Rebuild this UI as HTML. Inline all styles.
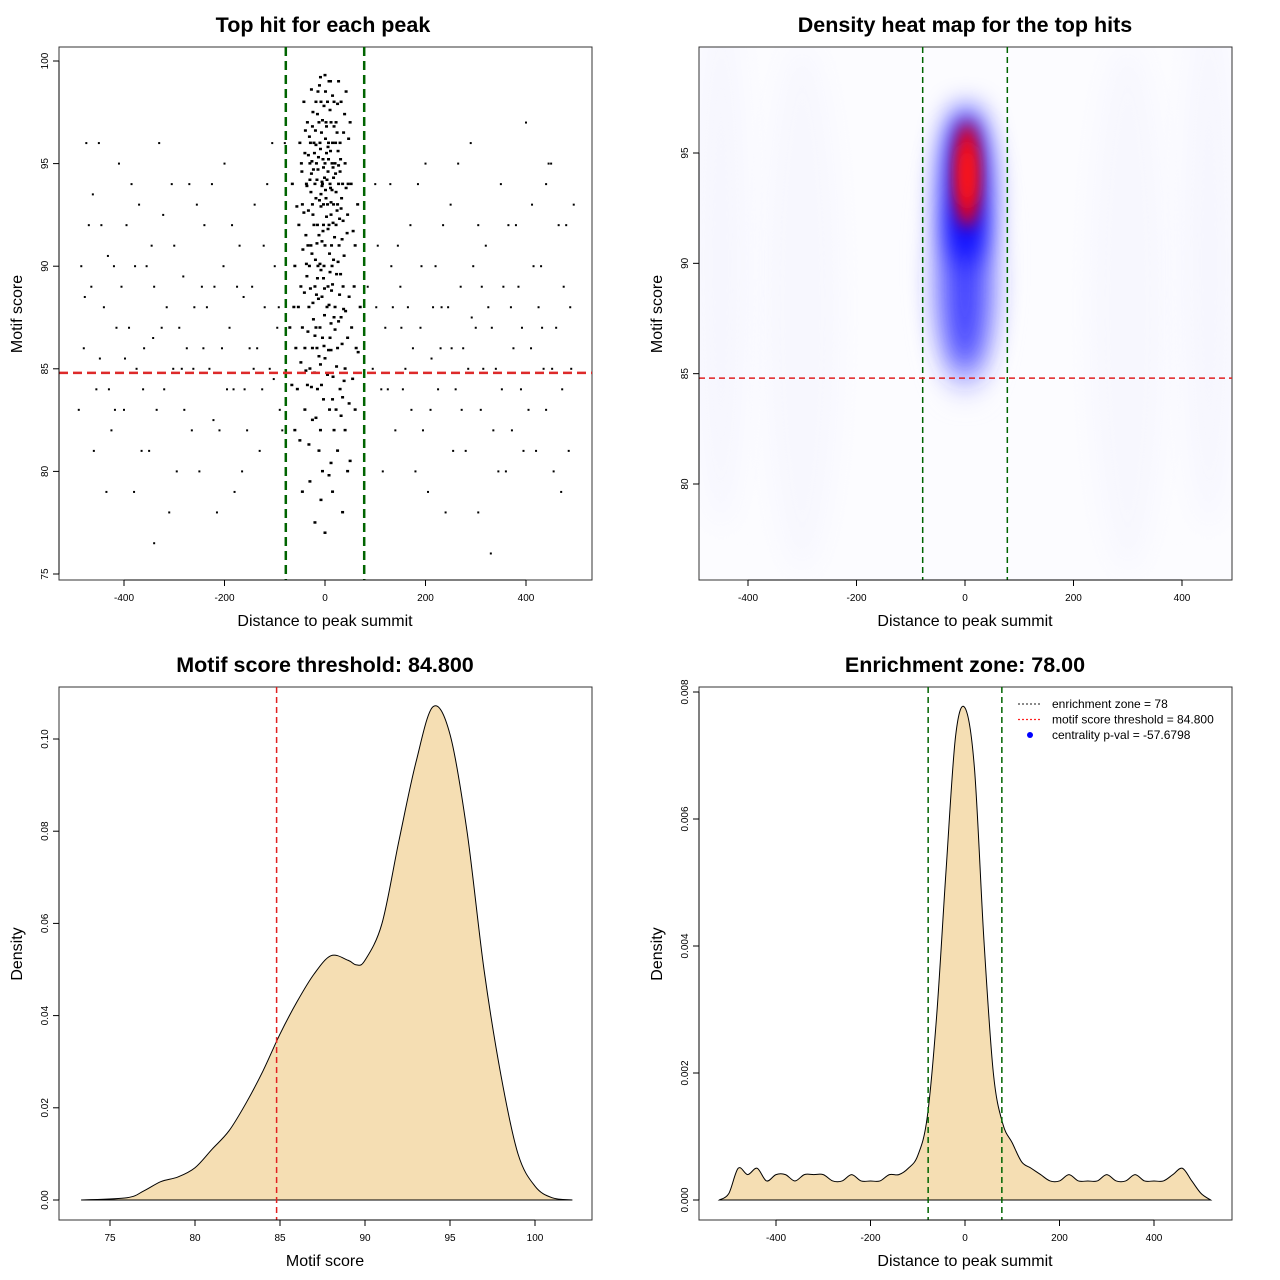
<!DOCTYPE html>
<html><head><meta charset="utf-8"><style>
html,body{margin:0;padding:0;background:#fff}
svg{display:block;font-family:"Liberation Sans",sans-serif}
</style></head><body>
<svg id="s" width="1280" height="1280" xmlns="http://www.w3.org/2000/svg">
<defs>
<filter id="blur1" x="-100%" y="-100%" width="300%" height="300%"><feGaussianBlur stdDeviation="14"/></filter>
<filter id="blur2" x="-100%" y="-100%" width="300%" height="300%"><feGaussianBlur stdDeviation="8"/></filter>
<clipPath id="clip2"><rect x="699" y="47" width="533" height="533"/></clipPath>
</defs>
</svg>
<script>
// ---------- data ----------
const clusterPts = "-30,95 -20,94 -10,96 0,95 10,94 20,95 30,96 -25,93 -15,92 -5,94 5,93 15,96 25,93 35,94 -35,97 -22,96 -12,97 2,97 12,97 22,97 32,98 -8,98 8,99 -18,98 18,98 0,99.3 -40,95.5 40,95 -45,93 45,92.5 -28,91 -14,90 0,91 14,90 28,91 -38,91.5 38,90.5 -20,89 -6,88.5 6,89 20,88 -32,88 32,87.5 -48,89 48,88.5 -10,87 10,86.5 -25,86 25,86 0,85.5 -40,86 40,85 -55,84 55,84.5 -15,84 15,83.5 -60,90 60,91 -65,94 65,93 -50,96 50,97 -42,98 42,98.5 -3,92 3,95.5 -8,93.5 8,92 -17,95 17,93 -27,94.5 27,94 -33,92.7 33,93.3 -2,90 4,88 -12,91.5 12,92.5 -22,92 22,92 -36,89.5 36,89 -18,87 18,87.5 -5,86.5 5,84.7 -30,85 30,84 -45,87 45,86.5 -70,87 70,88 -7,96.5 7,96 -14,98.5 14,95 -24,97.5 24,96.5 1,93.7 -1,94.3 11,93.8 -11,93.2 21,94.5 -21,95.5 29,92.3 -29,96 37,96.5 -37,94 -52,92 52,94 -58,86 58,89 -9,82 9,83 -25,82.5 25,81 -40,83 40,82 -60,82 60,83 -5,80 15,79 -30,79.5 35,78 0,77 -20,77.5 -4,95.2 6,94.6 -16,94.2 16,94.8 -26,95.1 26,95.6 -6,91.2 9,90.6 -19,90.3 19,91.4 -31,90 31,89.6 -3,89.4 -9,85.2 12,85.9 -21,84.8 22,83 -34,86.8 34,86.2 -44,90.8 44,91.6 3,96.8 -2,97.8 -27,98.6 27,99 -9,99.2 10,97.6 -3,93 3,92.4 13,91 -13,88.4 13,88.8 -1,87.6 23,89.6 -24,88.2 -47,95 47,96.2 -53,88 53,87 -16,86 16,84.6 -35,84.2 35,83.6 -50,81.5 50,80.5 -12,81 12,80.4";
const clusterPts2 = "-33,95.4 -23,94.7 -13,95.3 -3,94.8 7,95.2 17,94.3 27,94.9 -28,93.6 -18,93.3 -8,92.9 2,93.3 12,93.1 22,93.6 32,92.8 -31,96.3 -19,96.6 -9,95.7 1,96.2 11,95.6 21,96 31,95.2 -36,93.9 36,92.2 -6,94.1 4,94.2 14,93.7 -14,94.7 -24,92.5 24,92.7 -4,91.7 6,91.8 16,92.1 -16,91.1 -26,90.6 26,90.2 -10,90.1 10,89.7 -1,88.9 -15,89.4 15,89.1 -29,88.9 29,88.6 -8,89.8 8,88.1 -20,86.6 20,86.9 -2,86.1 -12,85.6 12,87.2 -42,92.6 42,93.8 -46,94.6 46,94 -39,96.6 39,97.4 -5,97.1 5,98 -15,97.4 15,98.3 -25,96.8 25,97.9 -11,98.8 1,98.5 11,99 -34,91 34,91.3 -41,88.7 41,87.8 -23,87.4 23,85.1 -7,84.2 7,85.9 -38,84.9 38,84.4 -56,92.9 56,91.7 -62,88 62,86 -66,84.2 66,85.8 -48,85.3 48,83.3 -3,83.5 -18,82.6 18,82 -32,81.3 32,82.7 -45,79 45,80 -8,78.6 8,79.8 -27,84.1 27,87.3 -37,90.1 37,87.9 -17,88.6 17,90.3 -6,93.9 6,95.8 -18,95.9 18,96.8 -30,94.2 30,94.6";
const outerPts = "-480,86 -470,92 -460,81 -450,96 -440,88 -430,84 -420,90 -410,95 -400,83 -390,87 -380,79 -370,93 -360,86 -350,81 -340,89 -330,96 -320,84 -310,78 -300,91 -290,87 -280,83 -270,94 -260,88 -250,80 -240,92 -230,85 -220,89 -210,82 -200,95 -190,87 -180,79 -170,91 -160,84 -150,86 -140,93 -130,81 -120,88 -110,85 -100,90 -90,83 -80,96 120,87 130,94 140,82 150,89 160,85 170,92 180,80 190,87 200,95 210,83 220,90 230,86 240,78 250,93 260,84 270,89 280,81 290,96 300,87 310,83 320,91 330,76 340,85 350,94 360,80 370,88 380,92 390,84 400,97 410,86 420,81 430,90 440,83 450,95 460,87 470,79 480,92 490,85 -475,96 -455,84 -435,79 -415,87 -395,92 -375,85 -355,90 -335,83 -315,88 -295,80 -275,86 -255,93 -235,88 -215,78 -195,84 -175,89 -155,82 -135,86 -115,94 -95,87 -85,82 95,85 105,91 115,80 135,88 155,84 175,86 195,82 215,88 235,92 255,81 275,86 295,90 315,85 335,82 355,89 375,86 395,81 415,90 435,85 455,80 475,89 495,93 -490,83 -465,89 305,78 -340,76.5 440,94 445,95 -485,90 -445,92 -425,82 -405,89 -385,94 -365,81 -345,91 -325,87 -305,94 -285,85 -265,82 -245,89 -225,94 -205,86 -185,92 -165,80 -145,89 -125,84 -105,96 85,89 100,94 125,84 145,91 165,88 185,94 205,79 225,84 245,88 265,95 285,85 305,92 325,88 345,80 365,92 385,89 405,83 425,88 465,92 485,81 -478,88.5 -462,93.5 -448,85.5 -432,90.5 -418,83 -398,85.5 -378,90 -362,84 -342,86.5 -322,92.5 -302,85 -282,89.5 -262,85 -242,86 -222,82.5 -202,90 -182,84 -162,88.5 -142,85 -122,91 -102,84.5 -92,88 102,88 112,84 132,90 152,87 172,83 192,90 212,85.5 232,88 252,86 272,83 292,87.5 312,89 332,87 352,84 372,82 392,87 412,93 432,87 452,85 472,84 488,88";
const scoreXs = [73.3,76,77,78,79,80,81,82,83,84,85,86,87,88,89,89.5,90,91,92,93,94,95,96,97,98,99,100,101,102.2];
const scoreDens = [0,0.0005,0.002,0.004,0.005,0.007,0.011,0.015,0.021,0.028,0.036,0.043,0.049,0.053,0.052,0.051,0.052,0.060,0.078,0.095,0.107,0.101,0.080,0.050,0.027,0.010,0.003,0.0005,0];
const distXs = [-520,-500,-480,-460,-440,-420,-400,-380,-360,-340,-320,-300,-280,-260,-240,-220,-200,-180,-160,-140,-120,-100,-80,-60,-40,-20,0,20,40,60,80,100,120,140,160,180,200,220,240,260,280,300,320,340,360,380,400,420,440,460,480,500,520];
const distDens = [0,0.0001,0.0005,0.0004,0.0005,0.0003,0.0004,0.0004,0.0003,0.0004,0.0004,0.0004,0.0003,0.0003,0.0004,0.0003,0.0003,0.0003,0.0004,0.0004,0.0005,0.0007,0.0013,0.0029,0.0052,0.0073,0.00775,0.0068,0.0041,0.002,0.0012,0.0009,0.0006,0.0005,0.0004,0.0003,0.0003,0.0004,0.0003,0.0003,0.0003,0.0004,0.0003,0.0003,0.0004,0.0003,0.0003,0.0003,0.0004,0.0005,0.0003,0.0001,0];
const heatX = [-300,300,-450,450,0,0,2,4,4];
const heatY = [88,88,90,90,90,89,93.5,94,94];
const heatSx = [70,70,50,50,60,42,42,22,12];
const heatSy = [12,12,12,12,6,4,3.6,2.4,1.4];
const heatColor = ["#f7f7fe","#f7f7fe","#f6f6fe","#f6f6fe","#d0d0ff","#4040ff","#0000ff","#ff0000","#ff2020"];
const xTicksDist = [-400,-200,0,200,400];
const yTicks1 = [75,80,85,90,95,100];
const yTicks2 = [80,85,90,95];
const xTicks3 = [75,80,85,90,95,100];
const yTicks3 = [0,0.02,0.04,0.06,0.08,0.10];
const yTicks4 = [0,0.002,0.004,0.006,0.008];
const zone = 78, thresh = 84.8;

// ---------- helpers ----------
const S = document.getElementById('s');
const NS = 'http://www.w3.org/2000/svg';
function mk(tag, attrs, parent){const e=document.createElementNS(NS,tag);for(const k in attrs)e.setAttribute(k,attrs[k]);(parent||S).appendChild(e);return e;}
function txt(x,y,s,size,opts){const e=mk('text',Object.assign({x:x,y:y,'font-size':size,'text-anchor':'middle',fill:'#000'},opts||{}));e.textContent=s;return e;}
function lin(a,b,c,d){return v=>c+(v-a)*(d-c)/(b-a);}
function parse(s){return s.trim().split(/\s+/).map(p=>p.split(',').map(Number));}
function smooth(P){let d=`M${P[0][0]},${P[0][1]}`;
  for(let i=0;i<P.length-1;i++){const p0=P[i-1]||P[i],p1=P[i],p2=P[i+1],p3=P[i+2]||p2;
    d+=` C${p1[0]+(p2[0]-p0[0])/6},${p1[1]+(p2[1]-p0[1])/6} ${p2[0]-(p3[0]-p1[0])/6},${p2[1]-(p3[1]-p1[1])/6} ${p2[0]},${p2[1]}`;}
  return d+'Z';}

function frame(x0,y0,w,h,name){const r=mk('rect',{x:x0,y:y0,width:w,height:h,fill:'none',stroke:'#333','stroke-width':1});}
function xAxis(ticks,sx,y,fmt,name){const g=mk('g',{});
  mk('line',{x1:sx(ticks[0]),x2:sx(ticks[ticks.length-1]),y1:y,y2:y,stroke:'#000'},g);
  ticks.forEach(t=>{mk('line',{x1:sx(t),x2:sx(t),y1:y,y2:y+6,stroke:'#000'},g);const e=txt(sx(t),y+21,fmt(t),10,{});g.appendChild(e);});}
function yAxis(ticks,sy,x,fmt,name){const g=mk('g',{});
  mk('line',{x1:x,x2:x,y1:sy(ticks[0]),y2:sy(ticks[ticks.length-1]),stroke:'#000'},g);
  ticks.forEach(t=>{mk('line',{x1:x,x2:x-6,y1:sy(t),y2:sy(t),stroke:'#000'},g);const e=txt(x-11,sy(t),fmt(t),10,{transform:`rotate(-90 ${x-11} ${sy(t)})`});g.appendChild(e);});}
function title(x,y,s,name){const e=txt(x,y,s,21.5,{'font-weight':'bold'});}
function label(x,y,s,name,rot){const e=txt(x,y,s,16,rot?{transform:`rotate(-90 ${x} ${y})`}:{});}

// ---------- panel 1: scatter ----------
{
  const sx=lin(0,400,325,526), sy=lin(100,75,61,574);
  title(323,32,'Top hit for each peak','title-scatter');
  frame(59,47,533,533,'scatter-frame');
  const g=mk('g',{fill:'#000'});
  parse(clusterPts).concat(parse(clusterPts2)).forEach(([x,y])=>{mk('rect',{x:sx(x)-1.5,y:sy(y)-1.5,width:3,height:2.5},g);});
  parse(outerPts).forEach(([x,y])=>{mk('rect',{x:sx(x)-1,y:sy(y)-1,width:2,height:2},g);});
  const v1=mk('line',{x1:sx(-zone),x2:sx(-zone),y1:47,y2:580,stroke:'#006400','stroke-width':2.5,'stroke-dasharray':'9,5'});
  
  const v2=mk('line',{x1:sx(zone),x2:sx(zone),y1:47,y2:580,stroke:'#006400','stroke-width':2.5,'stroke-dasharray':'9,5'});
  
  const h=mk('line',{x1:59,x2:592,y1:sy(thresh),y2:sy(thresh),stroke:'#dd2a2a','stroke-width':2.5,'stroke-dasharray':'9,5'});
  
  xAxis(xTicksDist,sx,580,String,'x-axis-scatter');
  yAxis(yTicks1,sy,59,String,'y-axis-scatter');
  label(325,626,'Distance to peak summit','x-axis-title-scatter');
  label(22,314,'Motif score','y-axis-title-scatter',true);
}
// ---------- panel 2: heat map ----------
{
  const sx=lin(0,400,965,1182), sy=lin(95,80,153,484);
  title(965,32,'Density heat map for the top hits','title-heatmap');
  const g=mk('g',{'clip-path':'url(#clip2)'});
  mk('rect',{x:699,y:47,width:533,height:533,fill:'#fcfcff'},g);
  heatX.forEach((hx,i)=>{const e=mk('ellipse',{cx:sx(hx),cy:sy(heatY[i]),rx:heatSx[i]*0.5425,ry:heatSy[i]*22.07,fill:heatColor[i],filter:i>=7?'url(#blur2)':'url(#blur1)'},g);
    });
  frame(699,47,533,533,'heatmap-frame');
  [-zone,zone].forEach((z,i)=>{const l=mk('line',{x1:sx(z),x2:sx(z),y1:47,y2:580,stroke:'#006400','stroke-width':1.5,'stroke-dasharray':'6,4'});
    });
  const h=mk('line',{x1:699,x2:1232,y1:sy(thresh),y2:sy(thresh),stroke:'#e02020','stroke-width':1.5,'stroke-dasharray':'6,4'});
  
  xAxis(xTicksDist,sx,580,String,'x-axis-heatmap');
  yAxis(yTicks2,sy,699,String,'y-axis-heatmap');
  label(965,626,'Distance to peak summit','x-axis-title-heatmap');
  label(662,314,'Motif score','y-axis-title-heatmap',true);
}
// ---------- panel 3: score density ----------
{
  const sx=lin(75,100,110,535), sy=lin(0,0.1,1200,739);
  title(325,672,'Motif score threshold: 84.800','title-score-density');
  frame(59,687,533,533,'score-density-frame');
  const P=scoreXs.map((x,i)=>[sx(x),sy(scoreDens[i])]);
  const c=mk('path',{d:smooth(P),fill:'#f5deb3',stroke:'#000','stroke-width':1});
  
  const v=mk('line',{x1:sx(thresh),x2:sx(thresh),y1:687,y2:1220,stroke:'#e02020','stroke-width':1.5,'stroke-dasharray':'6,4'});
  
  xAxis(xTicks3,sx,1220,String,'x-axis-score-density');
  yAxis(yTicks3,sy,59,t=>t.toFixed(2),'y-axis-score-density');
  label(325,1266,'Motif score','x-axis-title-score-density');
  label(22,954,'Density','y-axis-title-score-density',true);
}
// ---------- panel 4: distance density ----------
{
  const sx=lin(0,400,965,1154), sy=lin(0,0.008,1200,692);
  title(965,672,'Enrichment zone: 78.00','title-enrichment');
  frame(699,687,533,533,'enrichment-frame');
  const P=distXs.map((x,i)=>[sx(x),sy(distDens[i])]);
  const c=mk('path',{d:smooth(P),fill:'#f5deb3',stroke:'#000','stroke-width':1});
  
  [-zone,zone].forEach((z,i)=>{const l=mk('line',{x1:sx(z),x2:sx(z),y1:687,y2:1220,stroke:'#006400','stroke-width':1.5,'stroke-dasharray':'6,4'});
    });
  xAxis(xTicksDist,sx,1220,String,'x-axis-enrichment');
  yAxis(yTicks4,sy,699,t=>t.toFixed(3),'y-axis-enrichment');
  label(965,1266,'Distance to peak summit','x-axis-title-enrichment');
  label(662,954,'Density','y-axis-title-enrichment',true);
  const lg=mk('g',{});
  const items=[['enrichment zone = 78','#444','line'],['motif score threshold = 84.800','#ff2020','line'],['centrality p-val = -57.6798','#0000ff','dot']];
  items.forEach((it,i)=>{const y=704+i*15.5;
    if(it[2]=='line')mk('line',{x1:1018,x2:1042,y1:y,y2:y,stroke:it[1],'stroke-width':1.2,'stroke-dasharray':'2,2'},lg);
    else mk('circle',{cx:1030,cy:y,r:3,fill:it[1]},lg);
    const t=txt(1052,y+4,it[0],12,{'text-anchor':'start'});lg.appendChild(t);});
}
</script>
</body></html>
